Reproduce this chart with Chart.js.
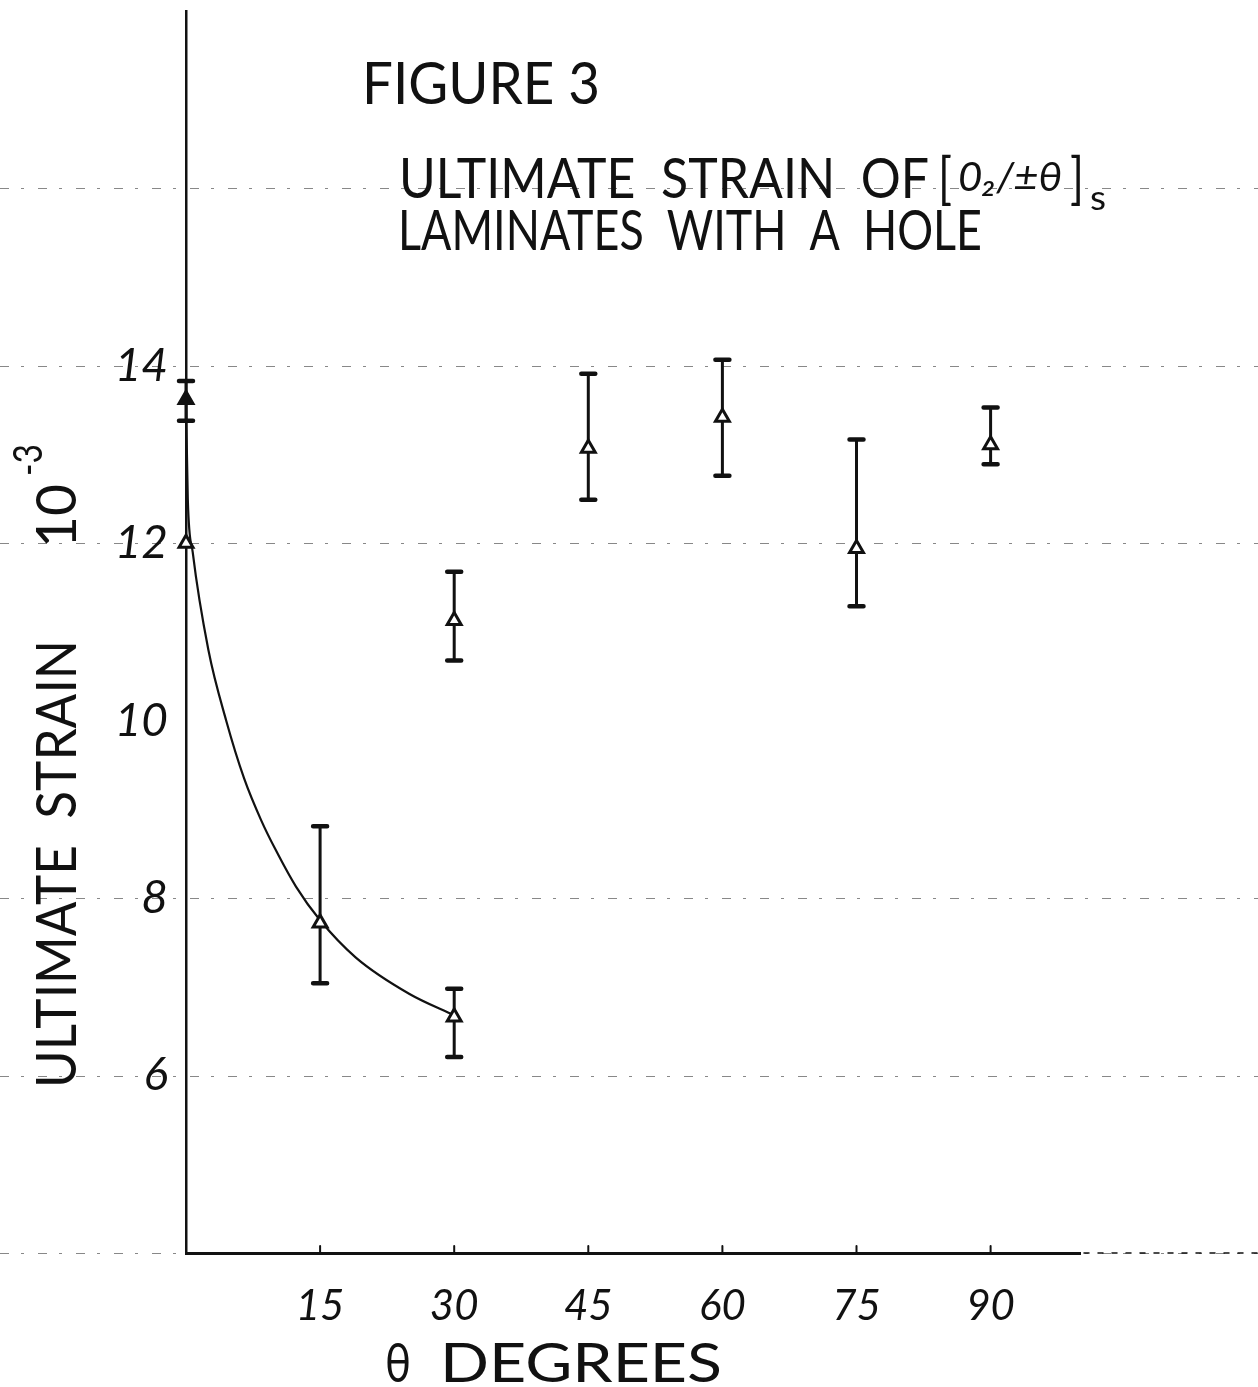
<!DOCTYPE html>
<html>
<head>
<meta charset="utf-8">
<title>Figure 3 - Ultimate strain</title>
<script src="https://cdn.jsdelivr.net/npm/chart.js@4.4.0/dist/chart.umd.min.js"></script>
<style>
    html, body { margin: 0; padding: 0; background: #fff; }
    #wrap { width: 1258px; height: 1387px; position: relative; }
</style>
</head>
<body>
<div id="wrap"><canvas id="strainChart"></canvas></div>
<script>
// Ply angle theta (degrees) for each test point
const angles = [0, 0, 15, 30, 30, 45, 60, 75, 90];
// Ultimate strain (x 10^-3), mean and scatter band
const strainMean = [13.62, 12.0, 7.72, 6.66, 11.13, 13.07, 13.42, 11.94, 13.11];
const strainLow = [13.38, null, 7.04, 6.21, 10.68, 12.49, 12.76, 11.29, 12.89];
const strainHigh = [13.83, null, 8.81, 6.98, 11.68, 13.91, 14.07, 13.17, 13.53];
// only the first 0 deg point is drawn filled
const filledPoint = [true, false, false, false, false, false, false, false, false];

// Hand drawn curve through the low branch
const curveAngles = [0, 0.2, 0.75, 2.5, 4.5, 6.5, 8.4, 10, 12.3, 15, 19, 25, 30];
const curveStrain = [13.6, 12.5, 11.9, 10.8, 10.0, 9.35, 8.88, 8.55, 8.13, 7.75, 7.33, 6.92, 6.68];

// Axis ticks
const xTickLabels = [15, 30, 45, 60, 75, 90];
const yTickLabels = [6, 8, 10, 12, 14];
// graph paper lines still visible on the scan
const gridLevels = [4, 6, 8, 12, 14, 16];

const INK = '#111';
const LETTER_FONT = "Lato, 'Open Sans', 'DejaVu Sans Condensed', sans-serif";

// draw text squeezed/stretched to a given width
function fitText(ctx, text, x, y, width, size, italic) {
    ctx.font = (italic ? 'italic ' : '') + size + 'px ' + LETTER_FONT;
    const w = ctx.measureText(text).width;
    ctx.save();
    ctx.translate(x, y);
    ctx.scale(width / w, 1);
    ctx.fillText(text, 0, 0);
    ctx.restore();
}

// white page + dashed graph paper lines running across the whole sheet
const paperPlugin = {
    id: 'paper',
    beforeDraw(chart) {
        const ctx = chart.ctx;
        const yScale = chart.scales.y;
        ctx.save();
        ctx.fillStyle = '#fff';
        ctx.fillRect(0, 0, chart.width, chart.height);
        ctx.strokeStyle = '#888';
        ctx.lineWidth = 1.2;
        ctx.setLineDash([9, 12, 3, 14]);
        gridLevels.forEach(v => {
            const py = Math.round(yScale.getPixelForValue(v)) + 0.5;
            ctx.beginPath();
            ctx.moveTo(0, py);
            ctx.lineTo(chart.width, py);
            ctx.stroke();
        });
        ctx.restore();
    }
};

// vertical scatter bars with caps
const errorBarPlugin = {
    id: 'errorBars',
    beforeDatasetsDraw(chart) {
        const ctx = chart.ctx;
        const xs = chart.scales.x;
        const ys = chart.scales.y;
        ctx.save();
        ctx.strokeStyle = INK;
        ctx.lineCap = 'round';
        angles.forEach((a, i) => {
            if (strainLow[i] === null) return;
            const px = xs.getPixelForValue(a);
            const top = ys.getPixelForValue(strainHigh[i]);
            const bot = ys.getPixelForValue(strainLow[i]);
            ctx.lineWidth = 3;
            ctx.beginPath();
            ctx.moveTo(px, top);
            ctx.lineTo(px, bot);
            ctx.stroke();
            ctx.lineWidth = 4.5;
            ctx.beginPath();
            ctx.moveTo(px - 7, top);
            ctx.lineTo(px + 7, top);
            ctx.moveTo(px - 7, bot);
            ctx.lineTo(px + 7, bot);
            ctx.stroke();
        });
        // little tick marks standing on the x axis
        ctx.lineWidth = 2;
        xTickLabels.forEach(v => {
            const px = xs.getPixelForValue(v);
            ctx.beginPath();
            ctx.moveTo(px, ys.bottom);
            ctx.lineTo(px, ys.bottom - 7);
            ctx.stroke();
        });
        // dashed continuation of the x axis off to the right
        ctx.lineWidth = 1.5;
        ctx.setLineDash([5, 9]);
        ctx.beginPath();
        ctx.moveTo(xs.right + 4, ys.bottom);
        ctx.lineTo(chart.width, ys.bottom);
        ctx.stroke();
        ctx.restore();
    }
};

// hand lettered captions and axis titles
const letteringPlugin = {
    id: 'lettering',
    afterDraw(chart) {
        const ctx = chart.ctx;
        ctx.save();
        ctx.fillStyle = INK;
        ctx.textBaseline = 'alphabetic';

        fitText(ctx, 'FIGURE 3', 362, 104, 238, 58);
        fitText(ctx, 'ULTIMATE  STRAIN  OF', 399, 198, 530, 56);
        fitText(ctx, '[', 938, 198, 14, 56);
        fitText(ctx, '0\u2082/\u00b1\u03b8', 958, 191, 104, 40, true);
        fitText(ctx, ']', 1070, 198, 14, 56);
        fitText(ctx, 's', 1090, 210, 16, 34);
        fitText(ctx, 'LAMINATES  WITH  A  HOLE', 398, 250, 584, 56);

        // x axis title
        fitText(ctx, '\u03b8', 385, 1382, 26, 54);
        fitText(ctx, 'DEGREES', 440, 1382, 282, 54);

        // y axis title, rotated
        ctx.save();
        ctx.translate(76, 1088);
        ctx.rotate(-Math.PI / 2);
        fitText(ctx, 'ULTIMATE  STRAIN', 0, 0, 448, 56);
        fitText(ctx, '10', 540, 0, 64, 56);
        fitText(ctx, '-3', 612, -34, 32, 40);
        ctx.restore();

        ctx.restore();
    }
};

const ctx = document.getElementById('strainChart').getContext('2d');
const strainChart = new Chart(ctx, {
    type: 'scatter',
    data: {
        datasets: [
            {
                label: 'Test results',
                data: angles.map((a, i) => ({ x: a, y: strainMean[i] })),
                pointStyle: 'triangle',
                pointRadius: 8,
                pointBorderWidth: 3,
                borderColor: INK,
                backgroundColor: filledPoint.map(f => f ? INK : '#fff'),
                clip: false
            },
            {
                label: 'Curve',
                data: curveAngles.map((a, i) => ({ x: a, y: curveStrain[i] })),
                showLine: true,
                borderColor: INK,
                borderWidth: 2.2,
                pointRadius: 0,
                cubicInterpolationMode: 'monotone',
                fill: false,
                clip: false
            }
        ]
    },
    options: {
        responsive: true,
        maintainAspectRatio: false,
        animation: false,
        layout: {
            padding: { top: 10, right: 178, left: 0, bottom: 0 }
        },
        plugins: {
            legend: { display: false },
            tooltip: { enabled: false }
        },
        scales: {
            x: {
                type: 'linear',
                min: 0,
                max: 100,
                afterFit(scale) {
                    scale.height = 134;
                    scale.paddingLeft = 0;
                    scale.paddingRight = 0;
                },
                afterBuildTicks(scale) {
                    scale.ticks = xTickLabels.map(v => ({ value: v }));
                },
                grid: { drawOnChartArea: false, drawTicks: false },
                border: { display: true, color: INK, width: 3 },
                ticks: {
                    padding: 28,
                    color: INK,
                    font: { family: LETTER_FONT, size: 42, style: 'italic' }
                }
            },
            y: {
                type: 'linear',
                min: 4,
                max: 18,
                afterFit(scale) {
                    scale.width = 186;
                    scale.paddingTop = 0;
                    scale.paddingBottom = 0;
                },
                afterBuildTicks(scale) {
                    scale.ticks = yTickLabels.map(v => ({ value: v }));
                },
                grid: { drawOnChartArea: false, drawTicks: false },
                border: { display: true, color: INK, width: 2.5 },
                ticks: {
                    padding: 18,
                    color: INK,
                    font: { family: LETTER_FONT, size: 46, style: 'italic' }
                }
            }
        }
    },
    plugins: [paperPlugin, errorBarPlugin, letteringPlugin]
});
</script>
</body>
</html>
